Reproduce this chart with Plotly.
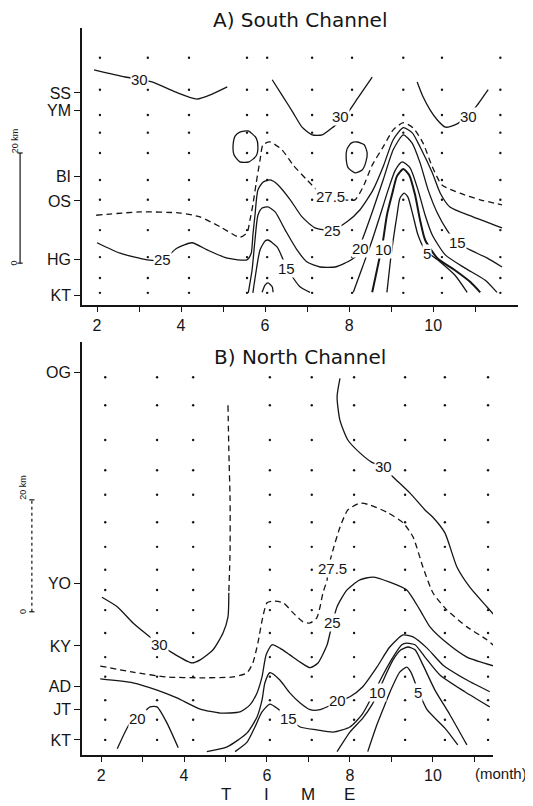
import plotly.graph_objects as go

# ---------------- Panel A : South Channel ----------------
a_stations = ["SS", "YM", "BI", "OS", "HG", "KT"]
a_station_km = [36.7, 33.5, 21.5, 17.1, 6.4, 0.0]
a_month_ticks = [2, 3, 4, 5, 6, 7, 8, 9, 10, 11]
a_month_text = ["2", "", "4", "", "6", "", "8", "", "10", ""]

a_dot_months = [2.07, 3.21, 4.19, 5.57, 6.05, 7.12, 8.07, 9.29, 10.21, 11.6]
a_dot_km = [43.1, 37.3, 32.7, 29.5, 25.8, 20.9, 17.3, 11.8, 6.9, 3.1, 0.4]

# isohalines (month, km from KT)
a30a_m = [1.93, 2.67, 3.31, 3.86, 4.38, 4.74, 5.10]
a30a_km = [40.9, 39.6, 38.7, 36.9, 35.6, 36.5, 37.8]
a30b_m = [6.17, 6.43, 6.67, 6.88, 7.12, 7.36, 7.62, 7.90, 8.21, 8.55]
a30b_km = [39.1, 36.0, 33.1, 30.5, 29.1, 29.1, 30.5, 32.4, 35.8, 39.6]
a30c_m = [9.62, 9.76, 9.93, 10.10, 10.29, 10.52, 10.83, 11.07, 11.31]
a30c_km = [38.7, 36.0, 33.6, 31.8, 30.5, 30.9, 32.4, 34.7, 37.3]
a30d_m = [5.40, 5.60, 5.79, 5.83, 5.79, 5.62, 5.40, 5.26, 5.24, 5.29, 5.40]
a30d_km = [29.6, 29.8, 28.5, 26.9, 25.3, 24.2, 24.2, 25.5, 27.3, 28.9, 29.6]
a30e_m = [8.19, 8.36, 8.43, 8.40, 8.31, 8.14, 7.98, 7.93, 7.95, 8.05, 8.19]
a30e_km = [27.8, 27.3, 25.8, 24.2, 22.7, 22.2, 23.1, 24.9, 26.5, 27.6, 27.8]
a275_m = [1.98, 3.02, 3.98, 4.45, 4.93, 5.40, 5.57, 5.64, 5.71, 5.79, 5.88, 5.95,
          6.12, 6.40, 6.67, 7.00, 7.24, 7.48, 7.90, 8.14, 8.33, 8.55, 8.81, 9.05,
          9.29, 9.52, 9.76, 9.98, 10.21, 10.64, 11.12, 11.64]
a275_km = [14.5, 15.1, 14.9, 14.2, 12.4, 10.5, 11.3, 13.6, 16.4, 20.4, 24.5, 27.3,
           27.8, 26.4, 23.6, 20.9, 19.1, 18.2, 17.3, 17.3, 19.6, 23.6, 26.9, 30.0,
           31.3, 30.4, 27.6, 23.3, 20.0, 18.5, 17.3, 16.4]
a25_m = [2.00, 2.55, 3.19, 3.57, 3.90, 4.26, 4.62, 5.10, 5.57, 5.67, 5.71, 5.76,
         5.83, 5.95, 6.12, 6.31, 6.60, 6.88, 7.19, 7.60, 7.95, 8.26, 8.57, 8.81,
         9.05, 9.29, 9.50, 9.69, 9.98, 10.17, 10.40, 10.95, 11.64]
a25_km = [9.5, 7.6, 6.4, 6.4, 8.5, 9.5, 8.2, 6.7, 6.4, 7.6, 10.9, 14.5,
          19.1, 20.5, 20.9, 20.0, 17.3, 14.2, 12.2, 11.8, 13.3, 15.5, 19.1, 23.3,
          28.2, 30.4, 29.5, 26.9, 22.2, 18.5, 16.0, 14.2, 12.2]
a20_m = [5.60, 5.69, 5.76, 5.83, 5.93, 6.07, 6.24, 6.48, 6.76, 7.00, 7.31, 7.67,
         7.90, 8.14, 8.33, 8.57, 8.81, 9.05, 9.29, 9.50, 9.69, 9.88, 10.10, 10.33,
         10.57, 10.88, 11.29, 11.64]
a20_km = [0.4, 4.5, 10.0, 14.5, 15.8, 16.0, 15.1, 11.8, 8.2, 6.0, 5.1, 5.1,
          5.8, 6.9, 10.4, 15.5, 20.9, 26.4, 29.1, 27.6, 24.0, 19.1, 14.9, 11.8,
          9.5, 8.2, 6.7, 5.1]
a15_m = [5.71, 5.79, 5.88, 6.00, 6.07, 6.29, 6.52, 6.83, 7.07]
a15_km = [0.4, 4.5, 8.2, 9.8, 10.0, 8.7, 4.9, 1.5, 0.5]
a15b_m = [8.10, 8.31, 8.55, 8.74, 8.93, 9.10, 9.26, 9.45, 9.64, 9.81, 9.98, 10.29,
          10.76, 11.24, 11.52]
a15b_km = [0.5, 4.9, 10.0, 14.5, 19.1, 22.7, 24.2, 23.1, 19.1, 14.5, 10.9, 7.3,
           4.9, 2.7, 0.5]
a10_m = [8.55, 8.69, 8.81, 8.90, 9.02, 9.14, 9.29, 9.43, 9.57, 9.69, 9.81, 10.10,
         10.52, 10.88, 11.12]
a10_km = [0.5, 5.5, 10.0, 14.5, 18.2, 21.6, 22.9, 21.8, 18.2, 13.6, 10.0, 6.7,
          4.5, 2.4, 0.5]
a10b_m = [5.93, 6.00, 6.07, 6.17, 6.19]
a10b_km = [0.5, 1.8, 2.2, 1.5, 0.5]
a5_m = [8.90, 8.98, 9.05, 9.14, 9.21, 9.31, 9.40, 9.52, 9.64, 9.81, 10.17, 10.52, 10.81]
a5_km = [0.5, 6.0, 10.0, 14.5, 17.6, 18.5, 17.8, 14.5, 10.9, 8.2, 6.0, 3.6, 0.5]

a_label_text = ["30", "30", "30", "27.5", "25", "25", "20", "15", "10", "5", "15"]
a_label_m = [3.02, 7.79, 10.83, 7.55, 3.57, 7.60, 8.26, 6.52, 8.81, 9.86, 10.57]
a_label_km = [39.1, 32.4, 32.4, 17.9, 6.4, 11.8, 8.5, 4.9, 8.2, 7.6, 9.5]

# ---------------- Panel B : North Channel ----------------
b_stations = ["OG", "YO", "KY", "AD", "JT", "KT"]
b_station_km = [65.7, 27.9, 16.8, 9.6, 5.5, 0.0]
b_month_ticks = [2, 3, 4, 5, 6, 7, 8, 9, 10, 11]
b_month_text = ["2", "", "4", "", "6", "", "8", "", "10", ""]

b_dot_months = [2.10, 3.35, 4.22, 6.07, 7.08, 8.10, 9.33, 10.29, 11.33]
b_dot_km = [64.8, 59.8, 53.6, 48.2, 43.8, 38.9, 34.5, 30.4, 26.8, 23.2, 19.1,
            14.8, 11.3, 7.1, 3.6, 0.0]

b30a_m = [5.06, 5.08, 5.11, 5.11, 5.08]
b30a_km = [59.8, 51.8, 42.9, 33.9, 26.3]
b30b_m = [5.08, 5.06, 4.94, 4.70, 4.39, 4.19, 3.73, 3.42, 3.06, 2.77, 2.39, 2.02]
b30b_km = [26.3, 22.0, 19.1, 16.1, 14.3, 13.75, 15.5, 17.0, 19.1, 20.9, 23.8, 25.5]
b30c_m = [7.76, 7.69, 7.76, 7.95, 8.24, 8.53, 8.80, 9.04, 9.45, 9.81, 10.00, 10.29,
          10.58, 10.89, 11.30, 11.54]
b30c_km = [64.6, 61.3, 57.1, 53.6, 51.3, 49.6, 48.8, 47.0, 44.1, 41.1, 39.8, 37.0,
           30.9, 27.3, 23.8, 21.8]
b275_m = [1.98, 2.77, 3.59, 4.39, 5.18, 5.52, 5.66, 5.78, 5.90, 6.00, 6.14, 6.39,
          6.63, 6.87, 7.04, 7.20, 7.28, 7.35, 7.45, 7.47, 7.59, 7.76, 7.95, 8.24,
          8.48, 8.89, 9.28, 9.52, 9.76, 10.00, 10.34, 10.82, 11.30, 11.54]
b275_km = [13.2, 12.1, 11.25, 11.1, 11.25, 12.0, 13.75, 17.3, 22.0, 24.5, 24.8, 24.5,
           22.7, 21.1, 20.9, 21.8, 23.8, 26.3, 28.6, 30.4, 33.9, 38.0, 41.1, 42.3,
           42.0, 40.7, 38.8, 36.3, 30.9, 26.3, 23.2, 20.2, 17.9, 16.4]
b25_m = [1.98, 2.77, 3.35, 3.83, 4.39, 4.87, 5.35, 5.59, 5.76, 5.88, 5.98, 6.12,
         6.31, 6.55, 6.80, 7.04, 7.23, 7.45, 7.52, 7.69, 7.93, 8.24, 8.55, 8.96,
         9.37, 9.69, 9.93, 10.34, 10.82, 11.57]
b25_km = [10.9, 10.2, 8.9, 7.5, 5.5, 4.8, 5.0, 6.25, 8.4, 11.25, 15.2, 17.0,
          16.4, 15.2, 13.9, 12.9, 13.75, 17.0, 19.1, 23.8, 26.8, 28.6, 29.1, 28.2,
          26.8, 23.2, 20.2, 17.3, 14.8, 13.0]
b20_m = [4.55, 5.04, 5.52, 5.76, 5.88, 5.95, 6.07, 6.31, 6.55, 6.80, 7.04, 7.28,
         7.71, 8.00, 8.31, 8.65, 8.96, 9.28, 9.52, 9.86, 10.24, 10.82, 11.37]
b20_km = [-2.1, -1.25, 1.25, 4.1, 7.1, 10.2, 12.0, 10.7, 8.4, 6.6, 5.4, 5.4,
          6.8, 7.7, 9.5, 13.0, 16.6, 18.75, 18.4, 16.4, 13.4, 10.7, 8.6]
b20b_m = [2.39, 2.70, 2.89, 3.18, 3.35, 3.59, 3.86]
b20b_km = [-1.6, 3.0, 3.9, 5.9, 5.9, 3.0, -1.4]
b15_m = [5.23, 5.52, 5.71, 5.88, 6.07, 6.27, 6.51, 6.80, 7.20, 7.59, 8.00, 8.29,
         8.53, 8.77, 9.04, 9.25, 9.37, 9.57, 9.81, 10.17, 10.77, 11.37]
b15_km = [-2.1, -0.4, 2.3, 5.0, 6.4, 5.5, 3.9, 2.3, 1.8, 1.4, 2.3, 4.5,
          7.7, 11.25, 14.8, 17.0, 17.3, 17.0, 14.8, 11.6, 8.6, 5.9]
b10_m = [7.69, 8.00, 8.31, 8.53, 8.67, 8.84, 9.04, 9.23, 9.40, 9.57, 9.76, 10.05,
         10.41, 10.82]
b10_km = [-2.1, 1.4, 3.9, 6.25, 8.4, 11.25, 14.3, 16.1, 16.6, 16.1, 13.4, 8.9,
          4.5, -0.9]
b5_m = [8.43, 8.65, 8.84, 9.01, 9.20, 9.37, 9.47, 9.64, 9.86, 10.29, 10.60]
b5_km = [-2.1, 2.7, 6.25, 9.3, 12.1, 13.0, 12.1, 8.9, 5.4, 2.1, -0.9]

b_label_text = ["30", "30", "27.5", "25", "20", "20", "15", "10", "5"]
b_label_m = [3.42, 8.80, 7.57, 7.57, 7.71, 2.89, 6.51, 8.67, 9.64]
b_label_km = [17.0, 48.8, 30.7, 20.9, 7.1, 3.9, 3.9, 8.4, 8.4]

time_letters = ["T", "I", "M", "E"]
time_letter_m = [5, 6, 7, 8]
scale_km = [0, 20]

# ---------------- figure ----------------
INK = "#151515"
fig = go.Figure()


def add_line(m, km, ax, dash="solid", width=1.3):
    fig.add_trace(go.Scatter(x=m, y=km, mode="lines", xaxis=ax[0], yaxis=ax[1],
                             line=dict(color=INK, width=width, dash=dash, shape="spline",
                                       smoothing=0.6),
                             hoverinfo="skip", showlegend=False))


def add_dots(months, kms, ax):
    xs, ys = [], []
    for m in months:
        for k in kms:
            xs.append(m)
            ys.append(k)
    fig.add_trace(go.Scatter(x=xs, y=ys, mode="markers", xaxis=ax[0], yaxis=ax[1],
                             marker=dict(size=2.4, color=INK), hoverinfo="skip",
                             showlegend=False))


A = ("x", "y")
B = ("x2", "y2")
add_dots(a_dot_months, a_dot_km, A)
add_dots(b_dot_months, b_dot_km, B)

for m, k in [(a30a_m, a30a_km), (a30b_m, a30b_km), (a30c_m, a30c_km),
             (a30d_m, a30d_km), (a30e_m, a30e_km), (a25_m, a25_km),
             (a20_m, a20_km), (a15_m, a15_km), (a15b_m, a15b_km),
             (a10b_m, a10b_km), (a5_m, a5_km)]:
    add_line(m, k, A)
add_line(a10_m, a10_km, A, width=2.0)
add_line(a275_m, a275_km, A, dash="6px,4px")

for m, k in [(b30b_m, b30b_km), (b30c_m, b30c_km), (b25_m, b25_km),
             (b20_m, b20_km), (b20b_m, b20b_km), (b15_m, b15_km),
             (b10_m, b10_km), (b5_m, b5_km)]:
    add_line(m, k, B)
add_line(b30a_m, b30a_km, B, dash="6px,4px")
add_line(b275_m, b275_km, B, dash="6px,4px")

annotations = []
lab_font = dict(family="Liberation Sans", size=15, color=INK)
for t, m, k in zip(a_label_text, a_label_m, a_label_km):
    annotations.append(dict(text=t, x=m, y=k, xref="x", yref="y", showarrow=False,
                            xanchor="center", yanchor="middle",
                            font=lab_font, bgcolor="white", borderpad=0))
for t, m, k in zip(b_label_text, b_label_m, b_label_km):
    annotations.append(dict(text=t, x=m, y=k, xref="x2", yref="y2", showarrow=False,
                            xanchor="center", yanchor="middle",
                            font=lab_font, bgcolor="white", borderpad=0))

title_font = dict(family="DejaVu Sans", size=20, color=INK)
annotations.append(dict(text="A) South Channel", x=0.5, y=1.0105, xref="paper", yref="paper",
                        xanchor="center", yanchor="middle", showarrow=False, font=title_font))
annotations.append(dict(text="B) North Channel", x=0.5, y=0.548, xref="paper", yref="paper",
                        xanchor="center", yanchor="middle", showarrow=False, font=title_font))
for t, m in zip(time_letters, time_letter_m):
    annotations.append(dict(text=t, x=m, y=-0.055, xref="x2", yref="paper",
                            xanchor="center", yanchor="middle", showarrow=False,
                            font=dict(family="Liberation Sans", size=17, color=INK)))
annotations.append(dict(text="(month)", x=0.962, y=-0.025, xref="paper", yref="paper",
                        xanchor="center", yanchor="middle", showarrow=False,
                        font=dict(family="Liberation Sans", size=15, color=INK)))

# distance scale bars (bar position, label position, km offset of the 0 mark)
small = dict(family="Liberation Sans", size=9, color=INK)
shapes = []
for yref, xp, xl, k0, dash in [("y", -0.142, -0.155, 5.8, "solid"),
                               ("y2", -0.115, -0.137, 22.9, "dot")]:
    shapes.append(dict(type="line", xref="paper", yref=yref, x0=xp, x1=xp,
                       y0=k0 + scale_km[0], y1=k0 + scale_km[1],
                       line=dict(color=INK, width=1.2, dash=dash)))
    for s in scale_km:
        shapes.append(dict(type="line", xref="paper", yref=yref, x0=xp - 0.006, x1=xp + 0.006,
                           y0=k0 + s, y1=k0 + s, line=dict(color=INK, width=1.2)))
    annotations.append(dict(text=str(scale_km[0]), x=xl, y=k0 + scale_km[0], xref="paper",
                            yref=yref, xanchor="center", yanchor="middle",
                            showarrow=False, textangle=-90, font=small))
    annotations.append(dict(text=f"{scale_km[1]} km", x=xl, y=k0 + scale_km[1] + 2.2,
                            xref="paper", yref=yref, xanchor="center", yanchor="middle",
                            showarrow=False, textangle=-90, font=small))

tick_font = dict(family="Liberation Sans", size=16, color=INK)
stn_font = dict(family="Liberation Sans", size=16, color=INK)
xcommon = dict(showgrid=False, zeroline=False, showline=True, linecolor=INK, linewidth=1.6,
               ticks="outside", ticklen=5, tickwidth=1.2, tickcolor=INK, tickfont=tick_font,
               tickmode="array", automargin=False)
ycommon = dict(showgrid=False, zeroline=False, showline=True, linecolor=INK, linewidth=1.6,
               ticks="outside", ticklen=6, tickwidth=1.2, tickcolor=INK, tickfont=stn_font,
               tickmode="array", automargin=False)

# the page body adds an 8 px offset, so the figure is 8 px smaller than the window
fig.update_layout(
    template="none",
    width=525, height=798,
    margin=dict(l=74, r=15, t=20, b=51),
    paper_bgcolor="white", plot_bgcolor="white",
    xaxis=dict(xcommon, domain=[0, 1], range=[1.643, 12.02], anchor="y",
               tickvals=a_month_ticks, ticktext=a_month_text),
    yaxis=dict(ycommon, domain=[0.619, 1.0], range=[-1.8, 48.5], anchor="x",
               tickvals=a_station_km, ticktext=a_stations),
    xaxis2=dict(xcommon, domain=[0, 0.9427], range=[1.54, 11.45], anchor="y2",
                tickvals=b_month_ticks, ticktext=b_month_text),
    yaxis2=dict(ycommon, domain=[0, 0.568], range=[-2.7, 71.1], anchor="x2",
                tickvals=b_station_km, ticktext=b_stations),
    annotations=annotations,
    shapes=shapes,
    showlegend=False,
)

fig.write_html("out.html")
